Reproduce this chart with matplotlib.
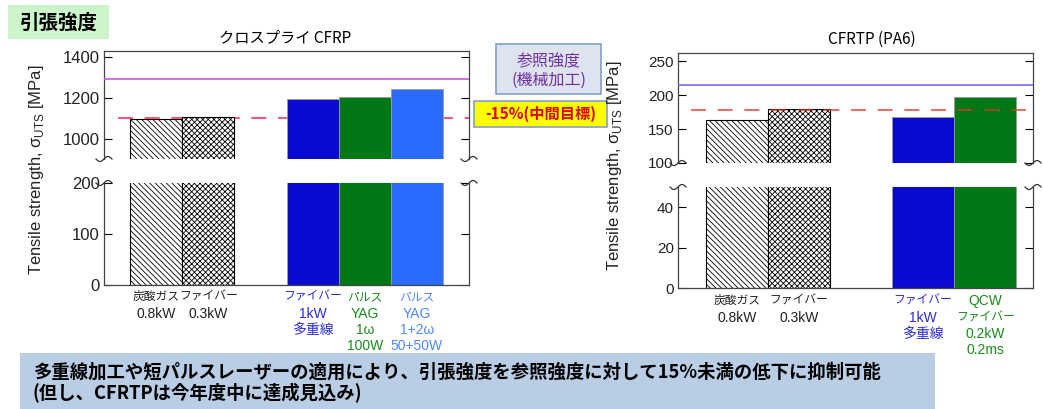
import numpy as np
import matplotlib.pyplot as plt
from matplotlib.lines import Line2D
from matplotlib.patches import Rectangle

plt.rcParams['font.family'] = ['Liberation Sans', 'Noto Sans CJK JP']
plt.rcParams['mathtext.fontset'] = 'custom'
plt.rcParams['mathtext.rm'] = 'Liberation Sans'
plt.rcParams['hatch.linewidth'] = 0.6

W, H = 1043, 409

# ---- data ----
cfrp_labels = [["炭酸ガス", "0.8kW"],
               ["ファイバー", "0.3kW"],
               ["ファイバー", "1kW", "多重線"],
               ["パルス", "YAG", "1ω", "100W"],
               ["パルス", "YAG", "1+2ω", "50+50W"]]
cfrp_values = [1098, 1107, 1195, 1205, 1245]
cfrp_ref = 1290
cfrp_target = 1102

cfrtp_labels = [["炭酸ガス", "0.8kW"],
                ["ファイバー", "0.3kW"],
                ["ファイバー", "1kW", "多重線"],
                ["QCW", "ファイバー", "0.2kW", "0.2ms"]]
cfrtp_values = [163, 179, 168, 197]
cfrtp_ref = 215
cfrtp_target = 178

# ---- styles ----
bar_fc = ['white', 'white', '#0a0ad0', '#007818', '#2a6cff']
bar_hatch = ['\\' * 6, 'x' * 6, None, None, None]
text_col = ['#222222', '#222222', '#2a2ad8', '#1a8a1a', '#4d88ff']


def px(x0, y0, x1, y1):
    return [x0 / W, 1 - y1 / H, (x1 - x0) / W, (y1 - y0) / H]


fig = plt.figure(figsize=(W / 100, H / 100), dpi=100)


def squiggle(xc, yc):
    t = np.linspace(-1, 1, 40)
    xs = xc + 8 * t
    ys = yc - 2.5 * np.sin(np.pi * t)
    fig.add_artist(Line2D(xs / W, 1 - ys / H, color='#333333', lw=0.9))


def chart(x0, x1, up, low, xlim, slots, values, labels, ylim_up, ylim_low,
          ticks_up, ticks_low, ref, target, ref_col, tgt_col, tgt_top,
          tick_fs, lab_first):
    ax_u = fig.add_axes(px(x0, up[0], x1, up[1]))
    ax_l = fig.add_axes(px(x0, low[0], x1, low[1]))
    for ax, ylim, ticks in [(ax_u, ylim_up, ticks_up), (ax_l, ylim_low, ticks_low)]:
        for i, (s, v) in enumerate(zip(slots, values)):
            hatched = bar_hatch[i] is not None
            ax.bar(s, v, width=1.0, color=bar_fc[i], hatch=bar_hatch[i],
                   edgecolor='black' if hatched else '#9a9a9a',
                   linewidth=0.8 if hatched else 0.6, zorder=2)
        ax.set_xlim(xlim)
        ax.set_ylim(ylim)
        ax.set_yticks(ticks)
        ax.set_xticks([])
        ax.tick_params(axis='y', direction='in', length=6, width=0.8,
                       right=True, labelsize=tick_fs, pad=3, labelcolor='#222222')
        for sp in ax.spines.values():
            sp.set_color('#444444')
            sp.set_linewidth(0.9)
    ax_u.spines['bottom'].set_visible(False)
    ax_l.spines['top'].set_visible(False)

    ax_u.axhline(ref, color=ref_col, lw=1.2, zorder=3)
    ax_u.axhline(target, xmin=0.037, color=tgt_col, lw=1.2, dashes=(9, 7),
                 zorder=3 if tgt_top else 1, alpha=0.85 if tgt_top else 1)

    for x in (x0, x1):
        squiggle(x, up[1])
        squiggle(x, low[0])

    for i, (s, lines) in enumerate(zip(slots, labels)):
        for j, line in enumerate(lines):
            kana = any(0x30A0 <= ord(c) <= 0x30FF for c in line)
            ax_l.annotate(line, xy=(s, 0), xycoords=('data', 'axes fraction'),
                          xytext=(0, -(lab_first + 16.5 * j)), textcoords='offset pixels',
                          ha='center', va='center', fontsize=8.5 if kana else 10,
                          color=text_col[i])
    return ax_u, ax_l


chart(104, 469, (51, 159), (183, 285), (-1.0, 6.0), [0, 1, 3, 4, 5],
      cfrp_values, cfrp_labels, (902, 1429), (0, 200),
      [1000, 1200, 1400], [0, 100, 200], cfrp_ref, cfrp_target,
      '#cc55ee', '#ff3366', False, 12, 12)

chart(678, 1033, (53, 163), (187, 288), (-0.95, 4.77), [0, 1, 3, 4],
      cfrtp_values, cfrtp_labels, (100, 262), (0, 50),
      [100, 150, 200, 250], [0, 20, 40], cfrtp_ref, cfrtp_target,
      '#8066ff', '#e8302a', True, 11, 13)

ylab = 'Tensile strength, σ$_{\\mathrm{UTS}}$ [MPa]'
fig.text(37 / W, 1 - 170 / H, ylab, rotation=90, ha='center', va='center',
         fontsize=12, color='#222222')
fig.text(615 / W, 1 - 166 / H, ylab, rotation=90, ha='center', va='center',
         fontsize=12, color='#222222')

fig.text(285 / W, 1 - 38 / H, 'クロスプライ CFRP', ha='center', va='center',
         fontsize=11, family=['Noto Sans CJK JP'])
fig.text(872 / W, 1 - 39 / H, 'CFRTP (PA6)', ha='center', va='center',
         fontsize=11, family=['Noto Sans CJK JP'])

# title tag
fig.add_artist(Rectangle((8 / W, 1 - 39 / H), 101 / W, 34 / H,
                         transform=fig.transFigure, fc='#ccf5cc', ec='none'))
fig.text(59 / W, 1 - 23 / H, '引張強度', ha='center', va='center',
         fontsize=14, fontweight='bold', family=['Noto Sans CJK JP'])

# reference box
fig.add_artist(Rectangle((496 / W, 1 - 94 / H), 105 / W, 50 / H,
                         transform=fig.transFigure, fc='#dde4f0', ec='#7f9fd0', lw=1.2))
fig.text(549 / W, 1 - 62 / H, '参照強度', ha='center', va='center',
         fontsize=11.5, color='#7030a0', family=['Noto Sans CJK JP'])
fig.text(549 / W, 1 - 80 / H, '(機械加工)', ha='center', va='center',
         fontsize=11.5, color='#7030a0', family=['Noto Sans CJK JP'])

# target box
fig.add_artist(Rectangle((474 / W, 1 - 127 / H), 133 / W, 26 / H,
                         transform=fig.transFigure, fc='#ffff00', ec='#7f9fd0', lw=1.2))
fig.text(541 / W, 1 - 114 / H, '-15%(中間目標)', ha='center', va='center',
         fontsize=11, fontweight='bold', color='#e00000', family=['Noto Sans CJK JP'])

# bottom summary
fig.add_artist(Rectangle((20 / W, 0), 915 / W, 56 / H,
                         transform=fig.transFigure, fc='#b9cde5', ec='none'))
fig.text(33 / W, 1 - 372 / H,
         '多重線加工や短パルスレーザーの適用により、引張強度を参照強度に対して15%未満の低下に抑制可能',
         ha='left', va='center', fontsize=13.2, fontweight='bold', family=['Noto Sans CJK JP'])
fig.text(33 / W, 1 - 393 / H, '(但し、CFRTPは今年度中に達成見込み)',
         ha='left', va='center', fontsize=13.2, fontweight='bold', family=['Noto Sans CJK JP'])

fig.savefig('out.png', dpi=100)
